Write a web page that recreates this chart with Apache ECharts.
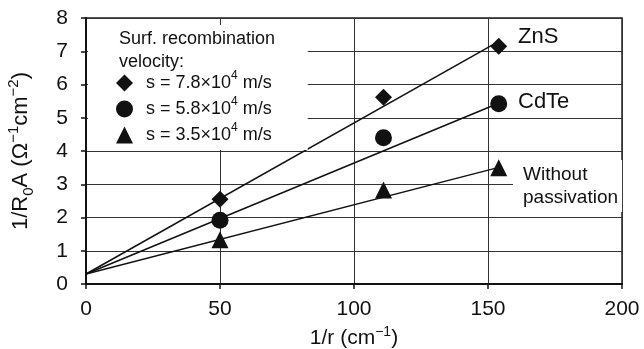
<!DOCTYPE html>
<html><head><meta charset="utf-8">
<script src="https://cdn.jsdelivr.net/npm/echarts@6/dist/echarts.min.js"></script>
<style>html,body{margin:0;padding:0;background:#fff}#c{width:644px;height:349px}</style>
</head><body><div id="c"></div>
<script>
const seriesNames = ['s = 7.8×10⁴ m/s', 's = 5.8×10⁴ m/s', 's = 3.5×10⁴ m/s'];
const xValues = [50, 111, 154];
const znsValues = [2.55, 5.62, 7.15];
const cdteValues = [1.92, 4.4, 5.42];
const noPassValues = [1.33, 2.83, 3.5];
const fitStart = [0, 0.3];
const fitEndX = 153.7;
const fitEndValues = [7.28, 5.43, 3.5];
const xTicks = [0, 50, 100, 150, 200];
const yTicks = [0, 1, 2, 3, 4, 5, 6, 7, 8];

const FONT = 'Liberation Sans, Arial, sans-serif';
const INK = '#111';
const chart = echarts.init(document.getElementById('c'));
const pts = (ys) => xValues.map((x, i) => [x, ys[i]]);
const symbols = ['diamond', 'circle', 'triangle'];
const allVals = [znsValues, cdteValues, noPassValues];

const series = [];
allVals.forEach((vals, i) => {
  series.push({
    type: 'line', data: [fitStart, [fitEndX, fitEndValues[i]]], symbol: 'none',
    lineStyle: { color: INK, width: 1.5 }, silent: true, z: 3
  });
});
allVals.forEach((vals, i) => {
  series.push({
    name: seriesNames[i], type: 'scatter', data: pts(vals), symbol: symbols[i],
    symbolSize: 17, itemStyle: { color: INK, opacity: 1 }, z: 4
  });
});

const supStyle = (fs) => ({ fontSize: fs, verticalAlign: 'top', lineHeight: fs, fontFamily: FONT, color: INK });
const subStyle = (fs) => ({ fontSize: fs, verticalAlign: 'bottom', lineHeight: fs, fontFamily: FONT, color: INK });

chart.setOption({
  animation: false,
  backgroundColor: '#fff',
  textStyle: { fontFamily: FONT },
  grid: { left: 86, right: 22, top: 18, bottom: 65, show: true, borderColor: '#222', borderWidth: 1.5,
          containLabel: false, outerBoundsMode: 'none' },
  xAxis: {
    type: 'value', min: 0, max: 200, interval: 50,
    name: '1/r (cm{sup|−1})', nameLocation: 'middle', nameGap: 41,
    nameTextStyle: { fontSize: 21, lineHeight: 26, color: INK, fontFamily: FONT, rich: { sup: supStyle(14) } },
    axisLine: { lineStyle: { color: INK, width: 2 } },
    axisTick: { show: true, length: 5, lineStyle: { color: INK, width: 1.5 } },
    axisLabel: { fontSize: 21, color: INK, margin: 15, fontFamily: FONT },
    splitLine: { show: true, lineStyle: { color: '#333', width: 1 } }
  },
  yAxis: {
    type: 'value', min: 0, max: 8, interval: 1,
    name: '1/R{sub|0}A (Ω{sup|−1}cm{sup|−2})', nameLocation: 'middle', nameGap: 50, nameRotate: 90,
    nameTextStyle: { fontSize: 22, lineHeight: 30, color: INK, fontFamily: FONT,
      rich: { sup: supStyle(15), sub: subStyle(15) } },
    axisLine: { show: true, lineStyle: { color: INK, width: 2 } },
    axisTick: { show: true, length: 5, lineStyle: { color: INK, width: 1.5 } },
    axisLabel: { fontSize: 21, color: INK, margin: 18, fontFamily: FONT },
    splitLine: { show: true, lineStyle: { color: '#333', width: 1 } }
  },
  legend: {
    data: seriesNames.map((n, i) => ({ name: n, icon: symbols[i] })),
    orient: 'vertical', left: 88, top: 25,
    padding: [45, 36, 2, 28], itemGap: 0, itemWidth: 17, itemHeight: 17,
    backgroundColor: '#fff',
    formatter: (n) => '{gap| }' + n.replace('⁴', '{sup|4}'),
    textStyle: { fontSize: 18, lineHeight: 26, color: INK, fontFamily: FONT,
      rich: { sup: supStyle(12), gap: { width: 8, fontSize: 18 } } },
    itemStyle: { color: INK, opacity: 1 }, z: 10
  },
  graphic: [
    { type: 'text', left: 119, top: 28, z: 100,
      style: { text: 'Surf. recombination\nvelocity:', fontSize: 18, lineHeight: 23, fill: INK, fontFamily: FONT } },
    { type: 'text', left: 518, top: 26, z: 100,
      style: { text: 'ZnS', fontSize: 22, fill: INK, fontFamily: FONT } },
    { type: 'text', left: 518, top: 91, z: 100,
      style: { text: 'CdTe', fontSize: 22, fill: INK, fontFamily: FONT } },
    { type: 'text', left: 513, top: 160, z: 100,
      style: { text: 'Without\npassivation', fontSize: 19, lineHeight: 23, fill: INK, fontFamily: FONT,
               backgroundColor: '#fff', padding: [3, 4, 3, 10] } }
  ],
  series
});
</script></body></html>
